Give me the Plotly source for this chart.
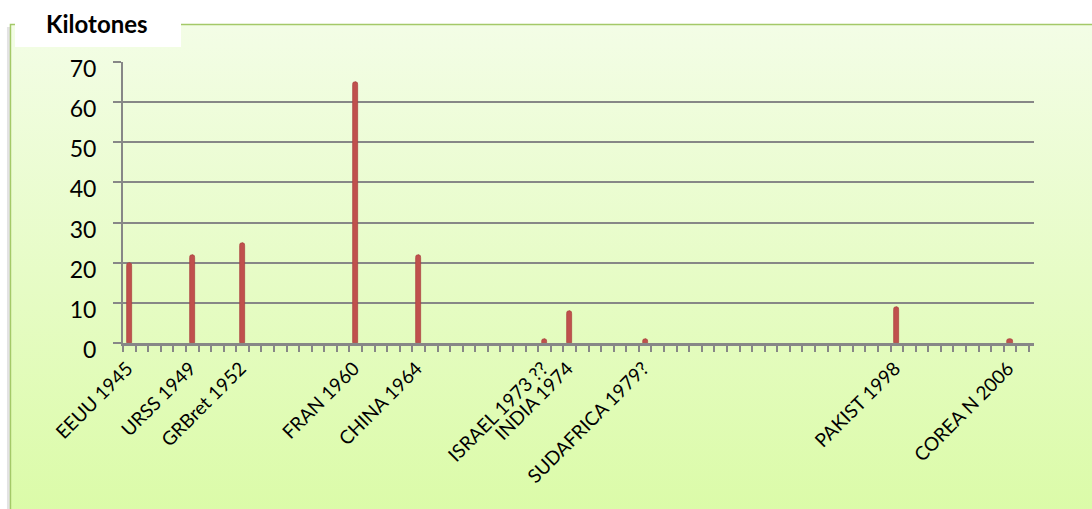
import base64
import plotly.graph_objects as go

# Nuclear first tests by country: category row on the time axis, label and yield (kilotons)
labels = ["EEUU 1945", "URSS 1949", "GRBret 1952", "FRAN 1960", "CHINA 1964",
          "ISRAEL 1973 ??", "INDIA 1974", "SUDAFRICA 1979?", "PAKIST 1998", "COREA N 2006"]
rows = [0, 5, 9, 18, 23, 33, 35, 41, 61, 70]
kilotons = [20, 22, 25, 65, 22, 1, 8, 1, 9, 1]
n_rows = 72
y_ticks = [0, 10, 20, 30, 40, 50, 60, 70]

W, H = 1092, 509
L, T, B = 123, 62, 166
slot = 12.58
x_range = [-0.5, 71.9]
plot_w = (x_range[1] - x_range[0]) * slot
R = W - L - plot_w
plot_h = H - T - B


def px_x(px):
    return (px - L) / plot_w


def px_y(py):
    return 1 - (py - T) / plot_h


grey = "#878787"
font = "Lato"

# Panel background with vertical gradient and green frame
svg = f"""<svg xmlns='http://www.w3.org/2000/svg' width='{W}' height='{H}' viewBox='0 0 {W} {H}'>
<defs><linearGradient id='g' x1='0' y1='0' x2='0' y2='1'>
<stop offset='0' stop-color='#f3fde6'/><stop offset='1' stop-color='#d9fba3'/></linearGradient></defs>
<rect x='7' y='27' width='3' height='{H}' fill='#d0d0d0' opacity='0.6'/>
<rect x='10.5' y='24.5' width='{W + 20}' height='{H + 20}' fill='url(#g)' stroke='#a4c968' stroke-width='1.5'/>
<rect x='15' y='0' width='166' height='47' fill='#ffffff'/>
</svg>"""
svg_uri = "data:image/svg+xml;base64," + base64.b64encode(svg.encode()).decode()

fig = go.Figure()
fig.add_trace(go.Bar(
    x=rows, y=kilotons, width=0.42,
    marker=dict(color="#C0504D", line=dict(color="#A8403D", width=0.7), cornerradius=2.5),
    hovertext=labels, showlegend=False,
))

fig.update_layout(
    width=W, height=H,
    margin=dict(l=L, r=R, t=T, b=B),
    paper_bgcolor="#ffffff",
    plot_bgcolor="rgba(0,0,0,0)",
    font=dict(family=font, color="#000000"),
    bargap=0,
    images=[dict(source=svg_uri, xref="paper", yref="paper",
                 x=px_x(0), y=px_y(0), sizex=W / plot_w, sizey=H / plot_h,
                 xanchor="left", yanchor="top", sizing="stretch", layer="below")],
    xaxis=dict(
        range=x_range, tickmode="array", tickvals=rows, ticktext=labels,
        tickangle=-45, ticks="", tickfont=dict(size=19, family=font),
        ticklabelstandoff=4, ticklabelshift=-2,
        showgrid=False, zeroline=False,
        showline=True, linecolor=grey, linewidth=3,
        minor=dict(tickmode="array", tickvals=[i - 0.5 for i in range(n_rows + 1)],
                   ticks="outside", ticklen=6, tickwidth=1.5, tickcolor=grey, showgrid=False),
    ),
    yaxis=dict(
        range=[0, 70], tickmode="array", tickvals=y_ticks,
        ticks="outside", ticklen=8, tickwidth=1.5, tickcolor=grey,
        tickfont=dict(size=23, family=font), ticklabelstandoff=12, ticklabelshift=7,
        showgrid=True, gridcolor=grey, gridwidth=2,
        showline=True, linecolor=grey, linewidth=2, zeroline=False,
    ),
    annotations=[dict(text="<b>Kilotones</b>", xref="paper", yref="paper",
                      x=px_x(97), y=px_y(23), xanchor="center", yanchor="middle",
                      showarrow=False, font=dict(size=24, family=font, color="#000000"))],
)

fig.write_html("out.html")
